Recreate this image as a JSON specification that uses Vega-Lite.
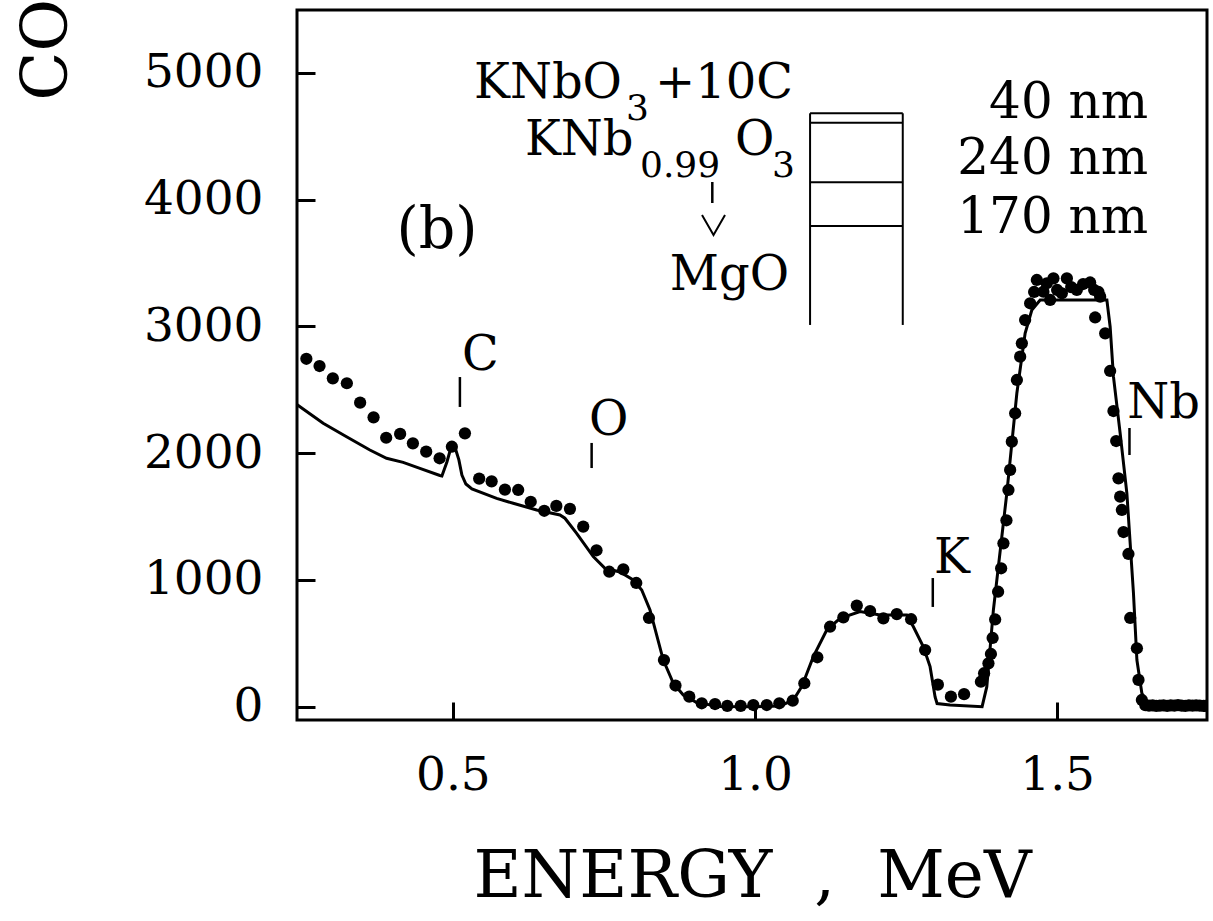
{
  "$schema": "https://vega.github.io/schema/vega-lite/v6.json",
  "width": 910,
  "height": 710,
  "autosize": {"type": "none"},
  "padding": {"left": 297, "top": 10, "right": 6, "bottom": 201},
  "background": "white",
  "config": {"view": {"stroke": "#000", "strokeWidth": 3}, "font": "DejaVu Serif"},
  "datasets": {
    "measured": [
      {"E":0.2575,"counts":2745},{"E":0.2793,"counts":2688},{"E":0.3013,"counts":2591},{"E":0.3245,"counts":2552},{"E":0.3465,"counts":2399},{"E":0.3687,"counts":2283},{"E":0.3896,"counts":2122},{"E":0.4127,"counts":2152},{"E":0.4338,"counts":2078},{"E":0.4558,"counts":2012},{"E":0.478,"counts":1960},{"E":0.4983,"counts":2051},{"E":0.5199,"counts":2157},{"E":0.5435,"counts":1800},{"E":0.5641,"counts":1778},{"E":0.5861,"counts":1713},{"E":0.6081,"counts":1710},{"E":0.6288,"counts":1617},{"E":0.6512,"counts":1546},{"E":0.6712,"counts":1584},{"E":0.6937,"counts":1561},{"E":0.7157,"counts":1421},{"E":0.7377,"counts":1234},{"E":0.7588,"counts":1065},{"E":0.782,"counts":1084},{"E":0.8035,"counts":976},{"E":0.8245,"counts":700},{"E":0.8493,"counts":368},{"E":0.8684,"counts":167},{"E":0.8912,"counts":79},{"E":0.9118,"counts":27},{"E":0.9338,"counts":21},{"E":0.9541,"counts":6},{"E":0.9763,"counts":6},{"E":0.9972,"counts":13},{"E":1.0194,"counts":13},{"E":1.0402,"counts":27},{"E":1.0624,"counts":47},{"E":1.0816,"counts":185},{"E":1.1031,"counts":390},{"E":1.1242,"counts":631},{"E":1.1462,"counts":705},{"E":1.1684,"counts":798},{"E":1.1904,"counts":755},{"E":1.2124,"counts":697},{"E":1.2346,"counts":731},{"E":1.2583,"counts":690},{"E":1.2815,"counts":447},{"E":1.3026,"counts":174},{"E":1.3242,"counts":79},{"E":1.346,"counts":99},{"E":1.3738,"counts":197},{"E":1.3791,"counts":264},{"E":1.3863,"counts":342},{"E":1.3904,"counts":416},{"E":1.3932,"counts":542},{"E":1.3974,"counts":688},{"E":1.4023,"counts":907},{"E":1.4073,"counts":1092},{"E":1.4111,"counts":1289},{"E":1.4161,"counts":1471},{"E":1.4194,"counts":1710},{"E":1.4222,"counts":1868},{"E":1.425,"counts":2091},{"E":1.4305,"counts":2315},{"E":1.4334,"counts":2578},{"E":1.4388,"counts":2762},{"E":1.4416,"counts":2867},{"E":1.447,"counts":3051},{"E":1.4553,"counts":3183},{"E":1.4619,"counts":3272},{"E":1.4664,"counts":3367},{"E":1.4773,"counts":3274},{"E":1.4829,"counts":3341},{"E":1.4884,"counts":3209},{"E":1.4939,"counts":3380},{"E":1.5,"counts":3288},{"E":1.5078,"counts":3262},{"E":1.5161,"counts":3380},{"E":1.5232,"counts":3311},{"E":1.5326,"counts":3288},{"E":1.543,"counts":3335},{"E":1.5546,"counts":3347},{"E":1.5613,"counts":3288},{"E":1.5684,"counts":3272},{"E":1.5629,"counts":3071},{"E":1.5712,"counts":3235},{"E":1.5795,"counts":2946},{"E":1.5877,"counts":2649},{"E":1.5932,"counts":2333},{"E":1.5977,"counts":2096},{"E":1.6015,"counts":1802},{"E":1.6043,"counts":1657},{"E":1.6071,"counts":1552},{"E":1.6098,"counts":1378},{"E":1.618,"counts":1205},{"E":1.6209,"counts":700},{"E":1.632,"counts":461},{"E":1.6346,"counts":211},{"E":1.6402,"counts":53},{"E":1.646,"counts":12},{"E":1.652,"counts":8},{"E":1.658,"counts":10},{"E":1.664,"counts":6},{"E":1.67,"counts":9},{"E":1.676,"counts":11},{"E":1.682,"counts":7},{"E":1.688,"counts":10},{"E":1.694,"counts":8},{"E":1.7,"counts":12},{"E":1.706,"counts":9},{"E":1.712,"counts":7},{"E":1.718,"counts":10},{"E":1.724,"counts":8},{"E":1.73,"counts":11},{"E":1.736,"counts":9},{"E":1.742,"counts":6},{"E":1.748,"counts":8}
    ],
    "simulated": [
      {"E":0.2417,"counts":2384},{"E":0.2853,"counts":2236},{"E":0.324,"counts":2130},{"E":0.3626,"counts":2025},{"E":0.3902,"counts":1960},{"E":0.4177,"counts":1928},{"E":0.4454,"counts":1881},{"E":0.4785,"counts":1824},{"E":0.4818,"counts":1820},{"E":0.4901,"counts":1931},{"E":0.4975,"counts":2057},{"E":0.5033,"counts":2049},{"E":0.5099,"counts":1947},{"E":0.5149,"counts":1828},{"E":0.5215,"counts":1757},{"E":0.5315,"counts":1718},{"E":0.5724,"counts":1644},{"E":0.5998,"counts":1605},{"E":0.6386,"counts":1552},{"E":0.6772,"counts":1513},{"E":0.6854,"counts":1487},{"E":0.7048,"counts":1368},{"E":0.7323,"counts":1184},{"E":0.7517,"counts":1092},{"E":0.7765,"counts":1063},{"E":0.7985,"counts":1000},{"E":0.8125,"counts":921},{"E":0.8262,"counts":763},{"E":0.8482,"counts":368},{"E":0.8648,"counts":185},{"E":0.8813,"counts":92},{"E":0.9035,"counts":32},{"E":0.9421,"counts":2},{"E":0.9967,"counts":0},{"E":1.0414,"counts":6},{"E":1.0634,"counts":53},{"E":1.0773,"counts":158},{"E":1.0965,"counts":395},{"E":1.1187,"counts":605},{"E":1.1407,"counts":697},{"E":1.1738,"counts":750},{"E":1.2069,"counts":724},{"E":1.2512,"counts":724},{"E":1.2621,"counts":631},{"E":1.2786,"counts":473},{"E":1.2897,"counts":316},{"E":1.298,"counts":77},{"E":1.3013,"counts":25},{"E":1.3228,"counts":13},{"E":1.3758,"counts":0},{"E":1.3836,"counts":158},{"E":1.3945,"counts":763},{"E":1.4167,"counts":1684},{"E":1.4333,"counts":2473},{"E":1.447,"counts":2946},{"E":1.4581,"counts":3130},{"E":1.4719,"counts":3209},{"E":1.5823,"counts":3209},{"E":1.5877,"counts":2998},{"E":1.5932,"counts":2604},{"E":1.6043,"counts":2157},{"E":1.6154,"counts":1684},{"E":1.6263,"counts":895},{"E":1.632,"counts":368},{"E":1.6402,"counts":106},{"E":1.6485,"counts":27},{"E":1.748,"counts":21}
    ]
  },
  "encoding": {
    "x": {
      "field": "E", "type": "quantitative",
      "scale": {"domain": [0.242, 1.748], "nice": false, "zero": false},
      "axis": {
        "title": "ENERGY \u00a0, \u00a0MeV", "values": [0.5, 1.0, 1.5], "format": ".1f",
        "grid": false, "domain": false, "ticks": true, "tickSize": -18, "tickWidth": 3, "tickColor": "#000",
        "labelFont": "DejaVu Serif", "labelFontSize": 47, "labelFontWeight": "normal", "labelColor": "#000",
        "labelBaseline": "alphabetic", "labelPadding": 87, "labelFlush": false, "labelOverlap": false,
        "titleFont": "DejaVu Serif", "titleFontSize": 66, "titleFontWeight": "normal", "titleColor": "#000",
        "titleBaseline": "alphabetic", "titleY": 176
      }
    },
    "y": {
      "field": "counts", "type": "quantitative",
      "scale": {"domain": [-105, 5497], "nice": false, "zero": false},
      "axis": {
        "title": "CO", "values": [0, 1000, 2000, 3000, 4000, 5000], "format": "d",
        "grid": false, "domain": false, "ticks": true, "tickSize": -18, "tickWidth": 3, "tickColor": "#000",
        "labelFont": "DejaVu Serif", "labelFontSize": 47, "labelFontWeight": "normal", "labelColor": "#000",
        "labelBaseline": "middle", "labelPadding": 52, "labelOverlap": false, "labelFlush": false,
        "titleFont": "DejaVu Serif", "titleFontSize": 64, "titleFontWeight": "normal", "titleColor": "#000",
        "titleAngle": 270, "titleAlign": "left", "titleBaseline": "alphabetic", "titleX": -231, "titleY": 90
      }
    }
  },
  "layer": [
    {"data": {"name": "simulated"}, "mark": {"type": "line", "color": "#000", "strokeWidth": 3, "clip": true}, "encoding": {}},
    {"data": {"name": "measured"}, "mark": {"type": "circle", "color": "#000", "opacity": 1, "size": 150, "clip": true}, "encoding": {}},
    {
      "data": {"values": [
        {"E": 0.5116, "counts": 2365, "counts2": 2601},
        {"E": 0.7296, "counts": 1883, "counts2": 2081},
        {"E": 1.2942, "counts": 787, "counts2": 1015},
        {"E": 1.6197, "counts": 1986, "counts2": 2199},
        {"E": 0.9293, "counts": 3974, "counts2": 4140}
      ]},
      "mark": {"type": "rule", "color": "#000", "strokeWidth": 2.5},
      "encoding": {"y2": {"field": "counts2"}}
    },
    {
      "data": {"values": [
        {"E": 1.0911, "counts": 3012, "counts2": 4682},
        {"E": 1.2445, "counts": 3012, "counts2": 4682}
      ]},
      "mark": {"type": "rule", "color": "#000", "strokeWidth": 2},
      "encoding": {"y2": {"field": "counts2"}}
    },
    {
      "data": {"values": [
        {"E": 1.0911, "E2": 1.2445, "counts": 4682},
        {"E": 1.0911, "E2": 1.2445, "counts": 4608},
        {"E": 1.0911, "E2": 1.2445, "counts": 4138},
        {"E": 1.0911, "E2": 1.2445, "counts": 3793}
      ]},
      "mark": {"type": "rule", "color": "#000", "strokeWidth": 2},
      "encoding": {"x2": {"field": "E2"}}
    },
    {
      "data": {"values": [{"E": 0.9313, "counts": 3801}]},
      "mark": {"type": "point", "shape": "M-1,-0.87L0,0.87L1,-0.87", "filled": false, "stroke": "#000", "strokeWidth": 2, "size": 529, "opacity": 1},
      "encoding": {}
    },
    {
      "data": {"values": [
        {"E": 0.5149, "counts": 2657, "label": "C"},
        {"E": 0.7252, "counts": 2144, "label": "O"},
        {"E": 1.2964, "counts": 1055, "label": "K"},
        {"E": 1.6159, "counts": 2278, "label": "Nb"},
        {"E": 0.6192, "counts": 4353, "label": "KNb"},
        {"E": 0.9669, "counts": 4353, "label": "O"}
      ]},
      "mark": {"type": "text", "font": "DejaVu Serif", "fontSize": 48, "align": "left", "baseline": "alphabetic", "color": "#000"},
      "encoding": {"text": {"field": "label"}}
    },
    {
      "data": {"values": [
        {"E": 0.4735, "counts": 3619, "label": "(b)"}
      ]},
      "mark": {"type": "text", "font": "DejaVu Serif", "fontSize": 57, "align": "center", "baseline": "alphabetic", "color": "#000"},
      "encoding": {"text": {"field": "label"}}
    },
    {
      "data": {"values": [
        {"E": 0.7798, "counts": 4803, "label": "KNbO"},
        {"E": 1.0629, "counts": 4803, "label": "+10C"},
        {"E": 1.0563, "counts": 3288, "label": "MgO"}
      ]},
      "mark": {"type": "text", "font": "DejaVu Serif", "fontSize": 48, "align": "right", "baseline": "alphabetic", "color": "#000"},
      "encoding": {"text": {"field": "label"}}
    },
    {
      "data": {"values": [
        {"E": 1.6507, "counts": 4645, "label": "40 nm"},
        {"E": 1.6507, "counts": 4203, "label": "240 nm"},
        {"E": 1.6507, "counts": 3738, "label": "170 nm"}
      ]},
      "mark": {"type": "text", "font": "DejaVu Serif", "fontSize": 50, "align": "right", "baseline": "alphabetic", "color": "#000"},
      "encoding": {"text": {"field": "label"}}
    },
    {
      "data": {"values": [
        {"E": 0.7864, "counts": 4629, "label": "3"},
        {"E": 0.8096, "counts": 4179, "label": "0.99"},
        {"E": 1.0281, "counts": 4179, "label": "3"}
      ]},
      "mark": {"type": "text", "font": "DejaVu Serif", "fontSize": 36, "align": "left", "baseline": "alphabetic", "color": "#000"},
      "encoding": {"text": {"field": "label"}}
    }
  ]
}
